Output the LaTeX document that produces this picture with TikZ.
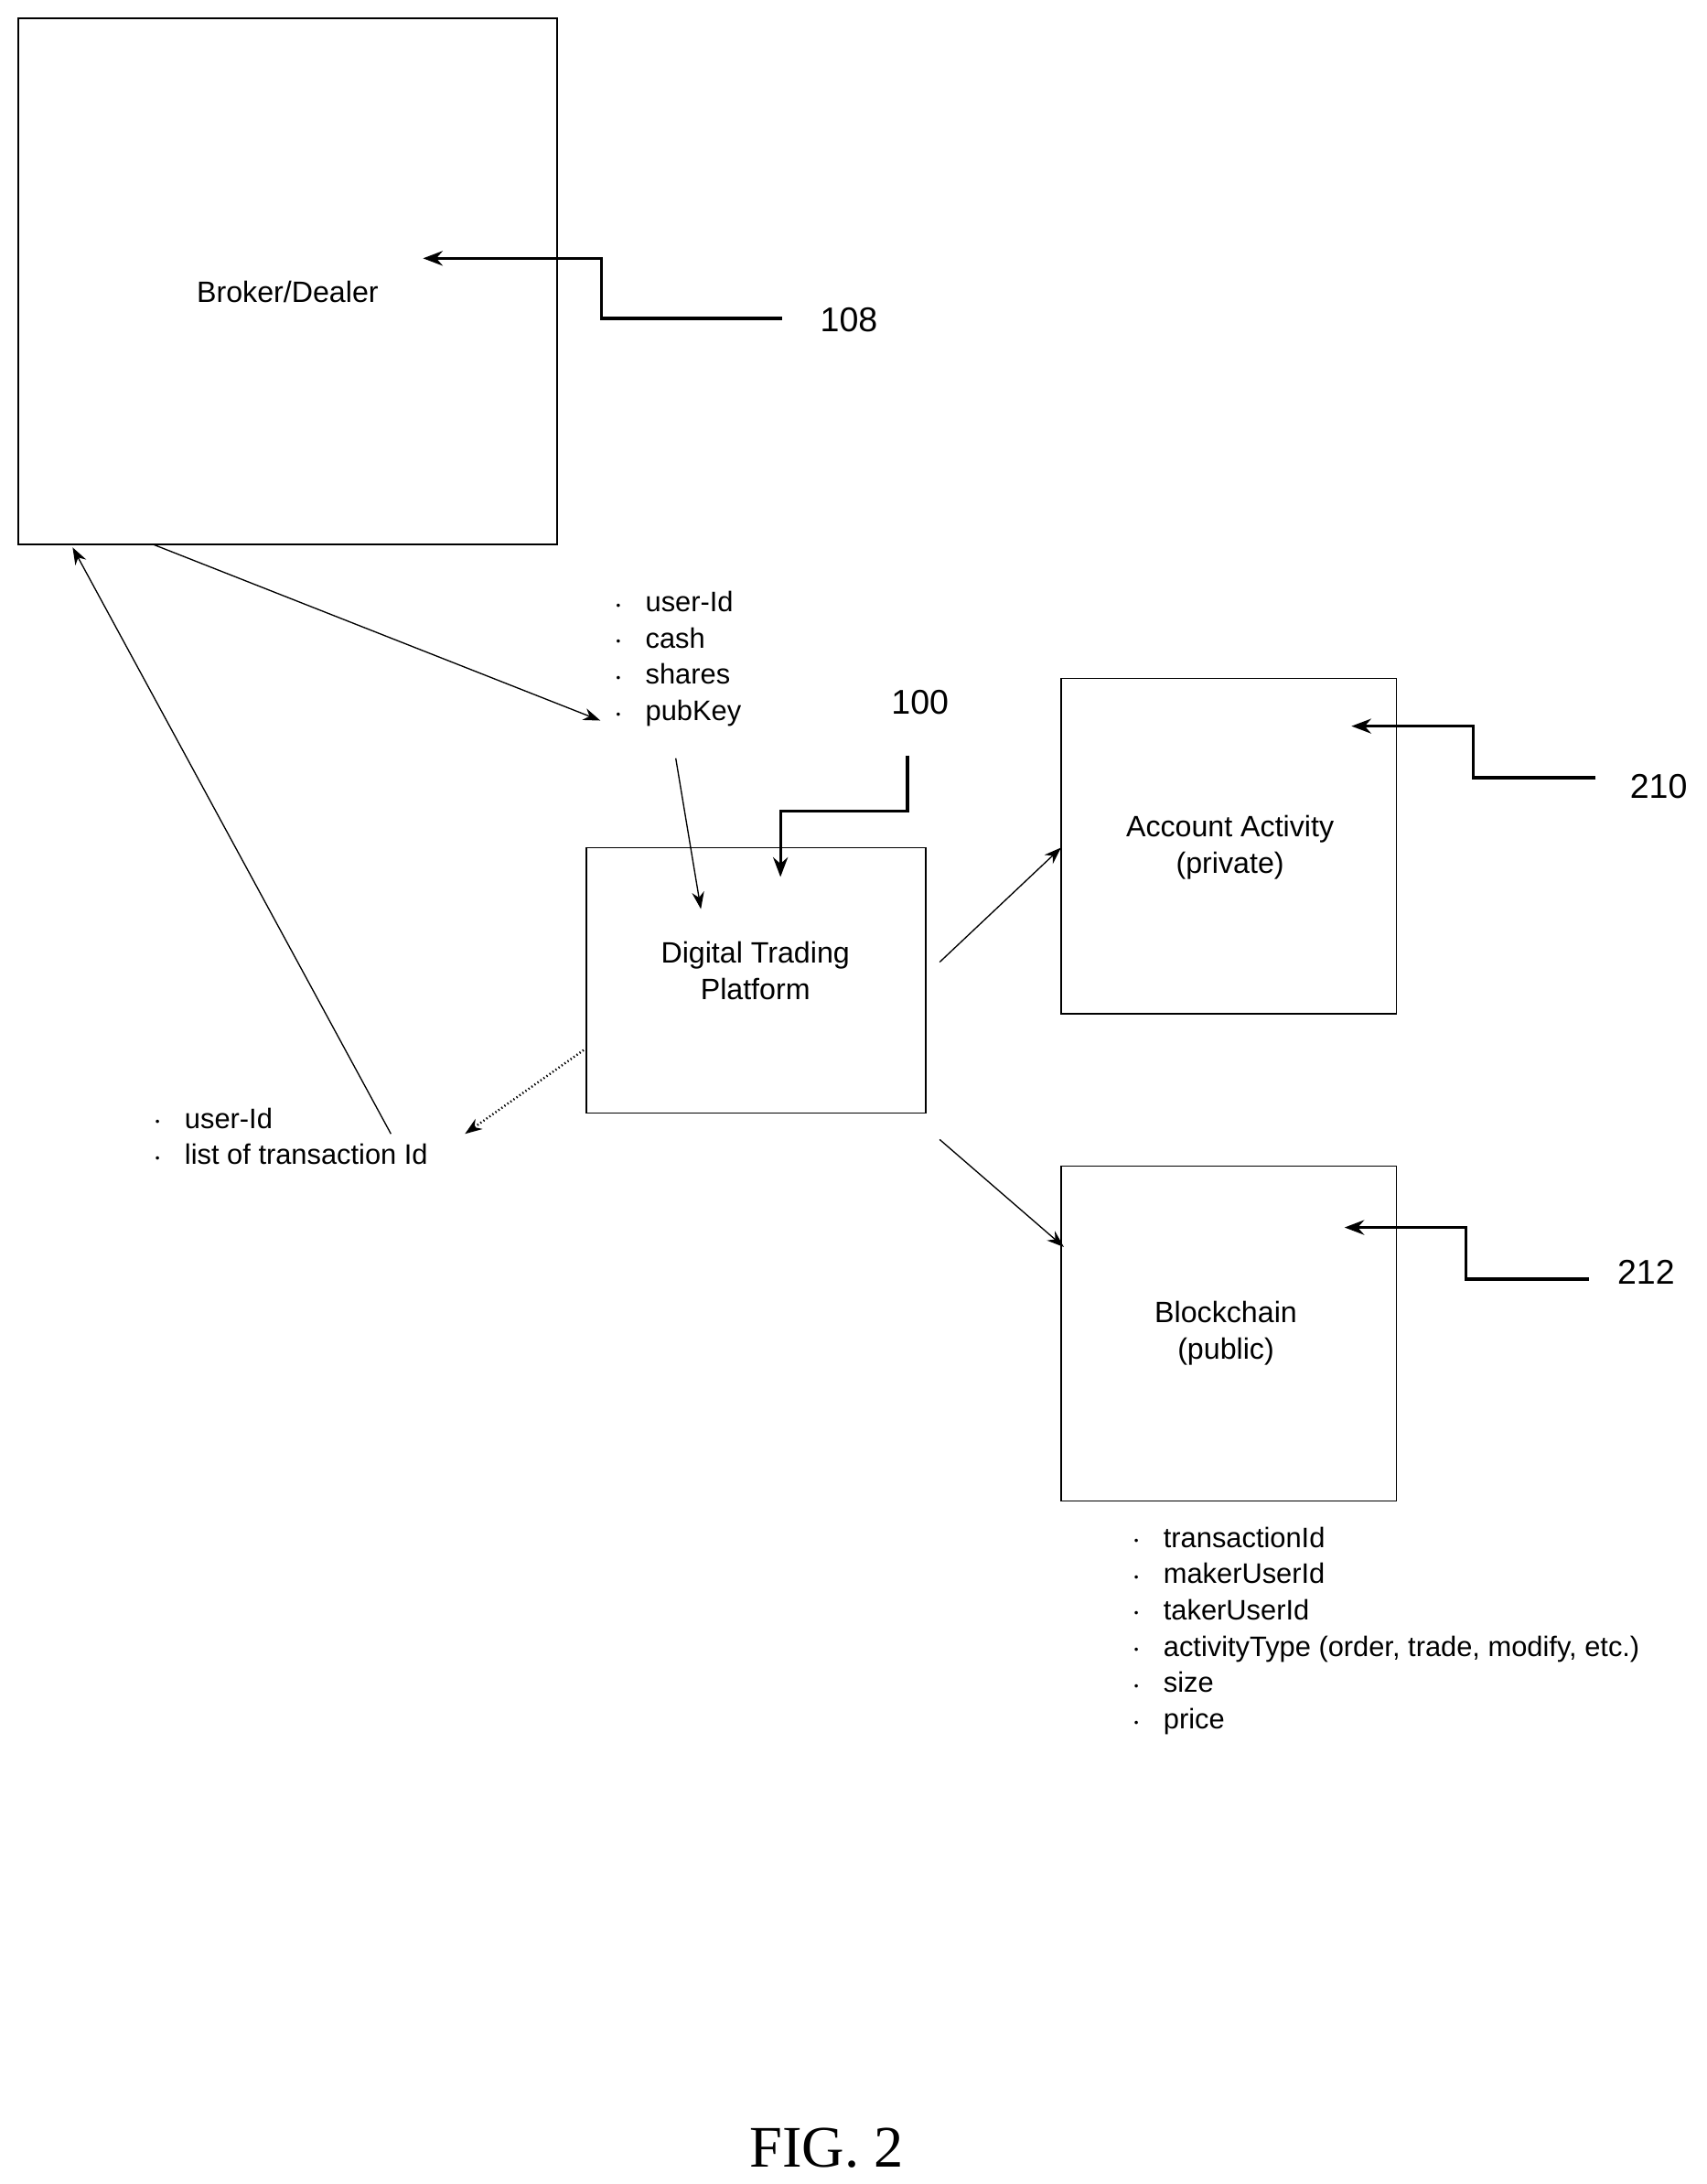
\documentclass[tikz,border=0pt]{standalone}
\usepackage{fontspec}
\setmainfont{Liberation Sans}
\newfontfamily\figfont{Liberation Serif}
\usetikzlibrary{arrows.meta,positioning,calc}
\newcommand{\bul}{\makebox[0.42cm][l]{\raisebox{0.15ex}{\tiny\textbullet}}}
\begin{document}
\begin{tikzpicture}[
    x=0.02cm, y=-0.02cm,
    box/.style={draw, line width=0.5pt, inner sep=0pt},
    lbl/.style={font=\fontsize{12}{15}\selectfont, align=center},
    refnum/.style={font=\fontsize{14}{16}\selectfont},
    items/.style={font=\fontsize{11.5}{14.8}\selectfont, align=left, anchor=north west, inner sep=0pt},
    ptr/.style={line width=1.2pt, -{Stealth[length=8pt,width=6pt]}},
    flow/.style={line width=0.5pt, -{Stealth[length=7pt,width=5pt]}},
  ]
  \useasboundingbox (0,0) rectangle (1222,1564);
  % main boxes
  \node[box, minimum width=7.72cm, minimum height=7.54cm] (broker) at (206,201.5) {};
  \node[lbl] (brokerlbl) at (206,209) {Broker/Dealer};
  \node[box, minimum width=4.86cm, minimum height=3.8cm] (dtp) at (541.5,702) {};
  \node[lbl] (dtplbl) at (541,695) {Digital Trading\\Platform};
  \node[box, minimum width=4.8cm, minimum height=4.8cm] (acct) at (880,606) {};
  \node[lbl] (acctlbl) at (881,607) {Account Activity\\(private)};
  \node[box, minimum width=4.8cm, minimum height=4.8cm] (chain) at (880,955) {};
  \node[lbl] (chainlbl) at (878,955) {Blockchain\\(public)};
  % bullet lists
  \node[items] (inlist) at (441,423) {\bul user-Id\\ \bul cash\\ \bul shares\\ \bul pubKey};
  \node[items] (outlist) at (111,793) {\bul user-Id\\ \bul list of transaction Id};
  \node[items] (chainlist) at (812,1093) {\bul transactionId\\ \bul makerUserId\\ \bul takerUserId\\
    \bul activityType (order, trade, modify, etc.)\\ \bul size\\ \bul price};
  % reference numerals
  \node[refnum] (n108) at (608,229) {108};
  \node[refnum] (n100) at (659,503) {100};
  \node[refnum] (n210) at (1188,563) {210};
  \node[refnum] (n212) at (1179,911) {212};
  \coordinate (p108) at (560,228);
  \coordinate (t108) at (303,185);
  \draw[ptr] (p108) -- (431,228) -- (431,185) -- (t108);
  \coordinate (p100) at (650,541);
  \coordinate (t100) at (559,628);
  \draw[ptr] (p100) -- (650,581) -- (559,581) -- (t100);
  \coordinate (p210) at (1143,557);
  \coordinate (t210) at (968,520);
  \draw[ptr] (p210) -- (1055,557) -- (1055,520) -- (t210);
  \coordinate (p212) at (1138,916);
  \coordinate (t212) at (963,879);
  \draw[ptr] (p212) -- (1050,916) -- (1050,879) -- (t212);
  % data flows
  \coordinate (bout) at (110,390);
  \coordinate (bin) at (52,392);
  \coordinate (inend) at (430,516);
  \coordinate (outstart) at (280,812);
  \draw[flow] (bout) -- (inend);
  \draw[flow] (outstart) -- (bin);
  \draw[flow] (484,543) -- (502,651);
  \draw[flow, densely dotted, line width=0.9pt] (418,752) -- (333,812);
  \draw[flow] (673,689) -- (760,607);
  \draw[flow] (673,816) -- (762,893);
  % caption
  \node[font=\figfont\fontsize{24}{28}\selectfont] (caption) at (592,1538) {FIG. 2};
\end{tikzpicture}
\end{document}
